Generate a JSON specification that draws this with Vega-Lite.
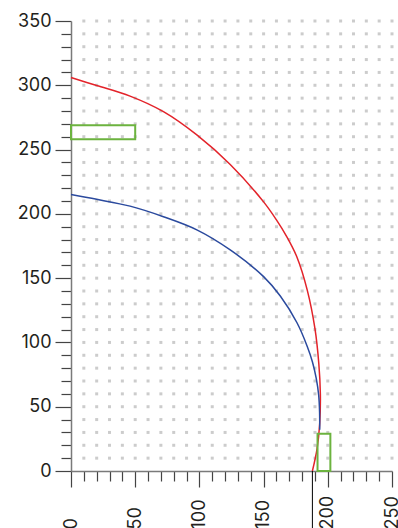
{
  "$schema": "https://vega.github.io/schema/vega-lite/v6.json",
  "width": 321,
  "height": 450,
  "autosize": {"type": "none"},
  "padding": {"left": 71, "top": 21, "right": 6, "bottom": 57},
  "background": "white",
  "config": {"view": {"stroke": null}},
  "datasets": {
    "dots": [{"xs": [10,20,30,40,50,60,70,80,90,100,110,120,130,140,150,160,170,180,190,200,210,220,230,240,250],
              "ys": [10,20,30,40,50,60,70,80,90,100,110,120,130,140,150,160,170,180,190,200,210,220,230,240,250,260,270,280,290,300,310,320,330,340,350]}],
    "curves": [
      {"s": "outer", "o": 1, "x": 0, "y": 306},
      {"s": "outer", "o": 2, "x": 20, "y": 299.8},
      {"s": "outer", "o": 3, "x": 46, "y": 291.6},
      {"s": "outer", "o": 4, "x": 72, "y": 279.5},
      {"s": "outer", "o": 5, "x": 98, "y": 261.4},
      {"s": "outer", "o": 6, "x": 124, "y": 238.4},
      {"s": "outer", "o": 7, "x": 150, "y": 209.3},
      {"s": "outer", "o": 8, "x": 160, "y": 195.3},
      {"s": "outer", "o": 9, "x": 168, "y": 182.3},
      {"s": "outer", "o": 10, "x": 176, "y": 166.3},
      {"s": "outer", "o": 11, "x": 184, "y": 140.7},
      {"s": "outer", "o": 12, "x": 190, "y": 110.7},
      {"s": "outer", "o": 13, "x": 193, "y": 83.5},
      {"s": "outer", "o": 14, "x": 194.2, "y": 60},
      {"s": "outer", "o": 15, "x": 193.7, "y": 37},
      {"s": "outer", "o": 16, "x": 191.6, "y": 17},
      {"s": "outer", "o": 17, "x": 188, "y": 0},
      {"s": "inner", "o": 1, "x": 0, "y": 215},
      {"s": "inner", "o": 2, "x": 20, "y": 211.3},
      {"s": "inner", "o": 3, "x": 46, "y": 206},
      {"s": "inner", "o": 4, "x": 72, "y": 197.8},
      {"s": "inner", "o": 5, "x": 98, "y": 187.6},
      {"s": "inner", "o": 6, "x": 124, "y": 172},
      {"s": "inner", "o": 7, "x": 150, "y": 151.2},
      {"s": "inner", "o": 8, "x": 163, "y": 136.1},
      {"s": "inner", "o": 9, "x": 176, "y": 115.3},
      {"s": "inner", "o": 10, "x": 184, "y": 96.9},
      {"s": "inner", "o": 11, "x": 188, "y": 85},
      {"s": "inner", "o": 12, "x": 191, "y": 72},
      {"s": "inner", "o": 13, "x": 192.9, "y": 59},
      {"s": "inner", "o": 14, "x": 193.6, "y": 46},
      {"s": "inner", "o": 15, "x": 193.7, "y": 32}
    ],
    "boxes": [
      {"x": 0, "x2": 50, "y": 258, "y2": 269},
      {"x": 192, "x2": 202, "y": 0, "y2": 29}
    ],
    "marker": [{"x": 188, "y": 0, "y2": -50}]
  },
  "encoding": {
    "x": {
      "field": "x", "type": "quantitative",
      "scale": {"domain": [0, 250], "nice": false, "zero": false},
      "axis": {
        "title": null,
        "values": [0,10,20,30,40,50,60,70,80,90,100,110,120,130,140,150,160,170,180,190,200,210,220,230,240,250],
        "grid": false,
        "domainColor": "#7a7a7a", "domainWidth": 1.5,
        "tickColor": "#444444", "tickWidth": 1.2,
        "tickSize": {"condition": {"test": "datum.value % 50 === 0", "value": 16}, "value": 10},
        "labelExpr": "datum.value % 50 === 0 ? datum.label : ''",
        "labelAngle": 270, "labelAlign": "left", "labelBaseline": "middle",
        "labelPadding": 42, "labelFont": "Inter", "labelFontSize": 18, "labelColor": "#231f20",
        "labelOverlap": false, "labelFlush": false, "labelBound": false
      }
    },
    "y": {
      "field": "y", "type": "quantitative",
      "scale": {"domain": [0, 350], "nice": false, "zero": false},
      "axis": {
        "title": null,
        "values": [0,10,20,30,40,50,60,70,80,90,100,110,120,130,140,150,160,170,180,190,200,210,220,230,240,250,260,270,280,290,300,310,320,330,340,350],
        "grid": false,
        "domainColor": "#7a7a7a", "domainWidth": 1.5,
        "tickColor": "#444444", "tickWidth": 1.2,
        "tickSize": {"condition": {"test": "datum.value % 50 === 0", "value": 16}, "value": 10},
        "labelExpr": "datum.value % 50 === 0 ? datum.label : ''",
        "labelPadding": 4, "labelFont": "Inter", "labelFontSize": 18, "labelColor": "#231f20",
        "labelOverlap": false, "labelFlush": false, "labelBound": false
      }
    }
  },
  "layer": [
    {
      "data": {"name": "dots"},
      "transform": [
        {"flatten": ["xs"], "as": ["x"]},
        {"flatten": ["ys"], "as": ["y"]}
      ],
      "mark": {"type": "point", "shape": "square", "filled": true, "size": 9, "color": "#cccccc", "opacity": 1}
    },
    {
      "data": {"name": "curves"},
      "mark": {"type": "line", "interpolate": "catmull-rom", "strokeWidth": 1.5},
      "encoding": {
        "order": {"field": "o", "type": "quantitative"},
        "color": {"field": "s", "type": "nominal", "scale": {"domain": ["outer", "inner"], "range": ["#e3232a", "#2b4a9e"]}, "legend": null}
      }
    },
    {
      "data": {"name": "boxes"},
      "mark": {"type": "rect", "fill": null, "fillOpacity": 0, "stroke": "#6cb33f", "strokeWidth": 2},
      "encoding": {
        "x2": {"field": "x2"},
        "y2": {"field": "y2"}
      }
    },
    {
      "data": {"name": "marker"},
      "mark": {"type": "rule", "color": "#000000", "strokeWidth": 1, "clip": false},
      "encoding": {
        "y2": {"field": "y2"}
      }
    }
  ]
}
